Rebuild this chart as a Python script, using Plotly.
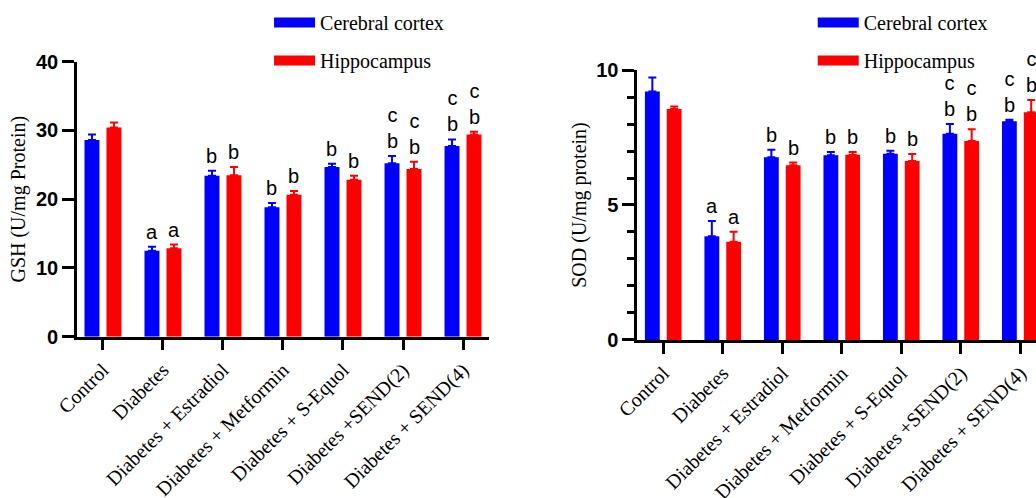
import plotly.graph_objects as go

# Treatment groups shared by both panels
groups = ["Control", "Diabetes", "Diabetes + Estradiol", "Diabetes + Metformin",
          "Diabetes + S-Equol", "Diabetes +SEND(2)", "Diabetes + SEND(4)"]

# GSH (U/mg protein): means and SEM
gsh_cortex = [28.6, 12.5, 23.4, 18.85, 24.7, 25.25, 27.75]
gsh_cortex_err = [0.8, 0.6, 0.75, 0.6, 0.45, 1.05, 0.95]
gsh_hippo = [30.45, 12.85, 23.5, 20.65, 22.85, 24.4, 29.4]
gsh_hippo_err = [0.7, 0.55, 1.2, 0.55, 0.55, 1.05, 0.4]

# SOD (U/mg protein): means and SEM
sod_cortex = [9.2, 3.84, 6.77, 6.84, 6.9, 7.64, 8.1]
sod_cortex_err = [0.52, 0.57, 0.28, 0.12, 0.11, 0.36, 0.06]
sod_hippo = [8.56, 3.64, 6.47, 6.86, 6.63, 7.37, 8.44]
sod_hippo_err = [0.09, 0.37, 0.1, 0.1, 0.26, 0.44, 0.45]

# Significance letters (listed bottom to top)
gsh_cortex_sig = [[], ["a"], ["b"], ["b"], ["b"], ["b", "c"], ["b", "c"]]
gsh_hippo_sig = [[], ["a"], ["b"], ["b"], ["b"], ["b", "c"], ["b", "c"]]
sod_cortex_sig = [[], ["a"], ["b"], ["b"], ["b"], ["b", "c"], ["b", "c"]]
sod_hippo_sig = [[], ["a"], ["b"], ["b"], ["b"], ["b", "c"], ["b", "c"]]

series_names = ["Cerebral cortex", "Hippocampus"]
BLUE = "#0000FF"
RED = "#FF0000"

SANS = "Liberation Sans"
SERIF = "Liberation Serif"

fig = go.Figure()

panels = [
    ("x", "y", "legend", [(gsh_cortex, gsh_cortex_err, gsh_cortex_sig, BLUE),
                          (gsh_hippo, gsh_hippo_err, gsh_hippo_sig, RED)]),
    ("x2", "y2", "legend2", [(sod_cortex, sod_cortex_err, sod_cortex_sig, BLUE),
                             (sod_hippo, sod_hippo_err, sod_hippo_sig, RED)]),
]

annotations = []
for xa, ya, leg, series in panels:
    for k, (vals, errs, sig, col) in enumerate(series):
        fig.add_trace(go.Bar(
            x=groups, y=vals, xaxis=xa, yaxis=ya,
            marker=dict(color=col, line=dict(width=0)),
            error_y=dict(type="data", array=errs, arrayminus=[0] * len(errs),
                         symmetric=False, color=col, thickness=2, width=4),
            offsetgroup=str(k), showlegend=False, name=series_names[k],
        ))
        # legend proxy drawn as a thick line so the key is a wide swatch
        fig.add_trace(go.Scatter(
            x=[None], y=[None], xaxis=xa, yaxis=ya, mode="lines",
            line=dict(color=col, width=12), name=series_names[k],
            legend=leg, legendgroup=f"{leg}{k}", showlegend=True,
        ))
        shift = -11 if k == 0 else 11
        for g, v, e, letters in zip(groups, vals, errs, sig):
            if not letters:
                continue
            annotations.append(dict(
                x=g, y=v + e, xref=xa, yref=ya, xshift=shift, yshift=2,
                text="<br>".join(reversed(letters)), showarrow=False,
                yanchor="bottom", xanchor="center",
                font=dict(family=SANS, size=20, color="black"),
            ))

axis_common = dict(showline=True, linecolor="black", linewidth=2.5,
                   ticks="outside", tickwidth=2.5, tickcolor="black",
                   showgrid=False, zeroline=False, automargin=False)

fig.update_layout(
    width=1036, height=498, template="none",
    paper_bgcolor="white", plot_bgcolor="white",
    margin=dict(l=0, r=0, t=0, b=0),
    barmode="group", bargap=0.267, bargroupgap=0.32,
    showlegend=True,
    annotations=annotations,
    xaxis=dict(domain=[0.0743, 0.472], range=[-0.433, 6.433], anchor="y",
               ticklen=11, tickangle=-45,
               tickfont=dict(family=SERIF, size=20, color="black"), **axis_common),
    yaxis=dict(domain=[0.3239, 0.876], range=[0, 40], dtick=10, anchor="x",
               ticklen=12,
               tickfont=dict(family=SANS, size=20, color="black", weight="bold"),
               title=dict(text="GSH (U/mg Protein)", standoff=5,
                          font=dict(family=SERIF, size=20, color="black")),
               **axis_common),
    xaxis2=dict(domain=[0.6151, 1.0], range=[-0.437, 6.264], anchor="y2",
                ticklen=11, tickangle=-45,
                tickfont=dict(family=SERIF, size=20, color="black"), **axis_common),
    yaxis2=dict(domain=[0.3173, 0.8594], range=[0, 10], dtick=5, anchor="x2",
                ticklen=12,
                minor=dict(ticks="outside", dtick=1, ticklen=7, tickwidth=2.5,
                           tickcolor="black"),
                tickfont=dict(family=SANS, size=20, color="black", weight="bold"),
                title=dict(text="SOD (U/mg protein)", standoff=5,
                           font=dict(family=SERIF, size=20, color="black")),
                **axis_common),
    legend=dict(x=0.2597, y=0.994, xanchor="left", yanchor="top",
                bgcolor="rgba(0,0,0,0)", borderwidth=0, tracegroupgap=9,
                itemwidth=41,
                font=dict(family=SERIF, size=20, color="black")),
    legend2=dict(x=0.7845, y=0.994, xanchor="left", yanchor="top",
                 bgcolor="rgba(0,0,0,0)", borderwidth=0, tracegroupgap=9,
                 itemwidth=41,
                 font=dict(family=SERIF, size=20, color="black")),
)

fig.write_html("out.html")
